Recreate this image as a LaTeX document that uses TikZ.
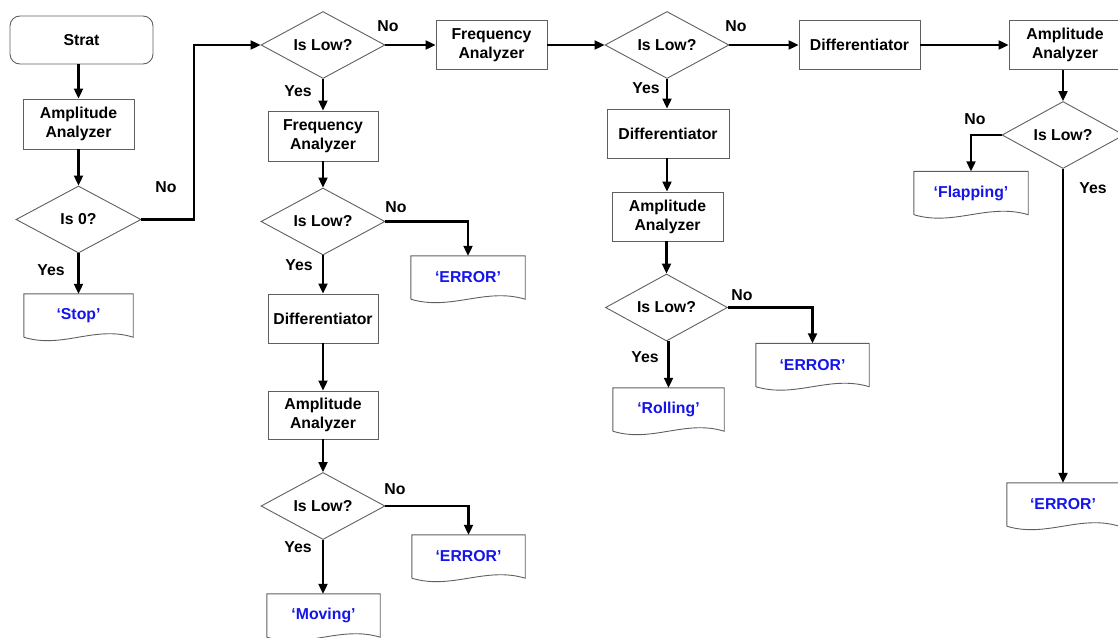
\documentclass[tikz,border=0pt]{standalone}
\usepackage{fontspec}
\setmainfont{Liberation Sans}
\usetikzlibrary{shapes.geometric,arrows.meta,calc}
\definecolor{boxgray}{RGB}{95,95,95}
\definecolor{docblue}{RGB}{20,20,235}
\newcommand\docframe[1]{\draw[boxline] (#1.south west) -- (#1.north west) -- (#1.north east) -- (#1.south east)
  .. controls ($(#1.south east)!0.35!(#1.south west)+(0,-12)$) and ($(#1.south east)!0.65!(#1.south west)+(0,12)$) .. (#1.south west);}
\begin{document}
\begin{tikzpicture}[x={(1pt,0pt)},y={(0pt,-1pt)},
  every node/.style={font=\fontsize{15.8}{19}\selectfont\bfseries},
  boxline/.style={draw=boxgray, line width=0.9pt},
  box/.style={boxline, minimum width=#1, minimum height=49pt, inner sep=0pt, align=center},
  box/.default=112pt,
  dec/.style={diamond, boxline, minimum width=124pt, minimum height=67pt, aspect=1.85, inner sep=0pt},
  doc/.style={minimum width=#1, minimum height=43pt, inner sep=0pt, text=docblue},
  doc/.default=113pt,
  arr/.style={-{Triangle[length=10pt,width=9pt]}, line width=2.1pt}]
\useasboundingbox (0,0) rectangle (1118,637);
% column 1
\node[box=143pt, minimum height=48pt, rounded corners=10pt] (start) at (81.5,40) {Strat};
\node[box=111pt, minimum height=50pt] (amp1) at (78.5,124) {Amplitude\\Analyzer};
\node[dec, minimum width=125pt] (d1) at (78.5,219.5) {Is 0?};
\node[doc=109pt] (stop) at (78.5,315.5) {‘Stop’};
% column 2
\node[dec] (d2) at (323,45) {Is Low?};
\node[box=111pt] (fa1) at (491.5,45) {Frequency\\Analyzer};
\node[box=110pt, minimum height=50pt] (fa2) at (323,136) {Frequency\\Analyzer};
\node[dec] (d3) at (323,221.5) {Is Low?};
\node[doc=114pt] (err1) at (468,277.5) {‘ERROR’};
\node[box=110pt] (diff1) at (323,318.5) {Differentiator};
\node[box=110pt, minimum height=48pt] (amp3) at (323,415) {Amplitude\\Analyzer};
\node[dec] (d4) at (323,506) {Is Low?};
\node[doc=113pt] (err2) at (468.5,556.5) {‘ERROR’};
\node[doc=113pt] (moving) at (323.5,615.5) {‘Moving’};
% column 3
\node[dec] (d5) at (667,45) {Is Low?};
\node[box=121pt] (diff2) at (859.5,45) {Differentiator};
\node[box=112pt] (amp4) at (1065,45) {Amplitude\\Analyzer};
\node[box=122pt] (diff3) at (668,133.5) {Differentiator};
\node[box=111pt] (amp5) at (667.5,216.5) {Amplitude\\Analyzer};
\node[dec, minimum width=122pt] (d6) at (666.5,307.5) {Is Low?};
\node[doc=113pt] (err3) at (812.5,365) {‘ERROR’};
\node[doc=111pt] (roll) at (668.5,409.5) {‘Rolling’};
% column 4
\node[dec, minimum width=122pt] (d7) at (1063,135) {Is Low?};
\node[doc=114pt] (flap) at (971,193) {‘Flapping’};
\node[doc=112pt] (err4) at (1063,504.5) {‘ERROR’};
% document outlines
\docframe{stop}\docframe{err1}\docframe{err2}\docframe{moving}
\docframe{err3}\docframe{roll}\docframe{flap}\docframe{err4}
% labels
\node (l1) at (166,187) {No};
\node (l2) at (51,270) {Yes};
\node (l3) at (388,26) {No};
\node (l4) at (298,91) {Yes};
\node (l5) at (396,207) {No};
\node (l6) at (299,265) {Yes};
\node (l7) at (395,489) {No};
\node (l8) at (298,547) {Yes};
\node (l9) at (736,26) {No};
\node (l10) at (646,88) {Yes};
\node (l11) at (742,295) {No};
\node (l12) at (645,357) {Yes};
\node (l13) at (975,119) {No};
\node (l14) at (1093,188) {Yes};
% connectors
\coordinate (c1) at (194,45);
\draw[arr] (start.south -| amp1.north) -- (amp1.north);
\draw[arr] (amp1) -- (d1);
\draw[arr] (d1) -- (stop);
\draw[arr] (d1.east) -| (c1) -- (d2.west);
\draw[arr] (d2) -- (fa1);
\draw[arr] (d2) -- (fa2);
\draw[arr] (fa2) -- (d3);
\draw[arr] (d3.east) -| (err1.north);
\draw[arr] (d3) -- (diff1);
\draw[arr] (diff1) -- (amp3);
\draw[arr] (amp3) -- (d4);
\draw[arr] (d4.east) -| (err2.north);
\draw[arr] (d4.south) -- (d4.south |- moving.north);
\draw[arr] (fa1) -- (d5);
\draw[arr] (d5) -- (diff2);
\draw[arr] (diff2) -- (amp4);
\draw[arr] (d5.south) -- (d5.south |- diff3.north);
\draw[arr] (diff3.south -| d5.south) -- (amp5.north -| d5.south);
\draw[arr] (amp5.south -| d6.north) -- (d6.north);
\draw[arr] (d6.east) -| (err3.north);
\draw[arr] (d6.south -| roll.north) -- (roll.north);
\draw[arr] (amp4.south -| d7.north) -- (d7.north);
\draw[arr] (d7.west) -| (flap.north);
\draw[arr] (d7) -- (err4);
\end{tikzpicture}
\end{document}
